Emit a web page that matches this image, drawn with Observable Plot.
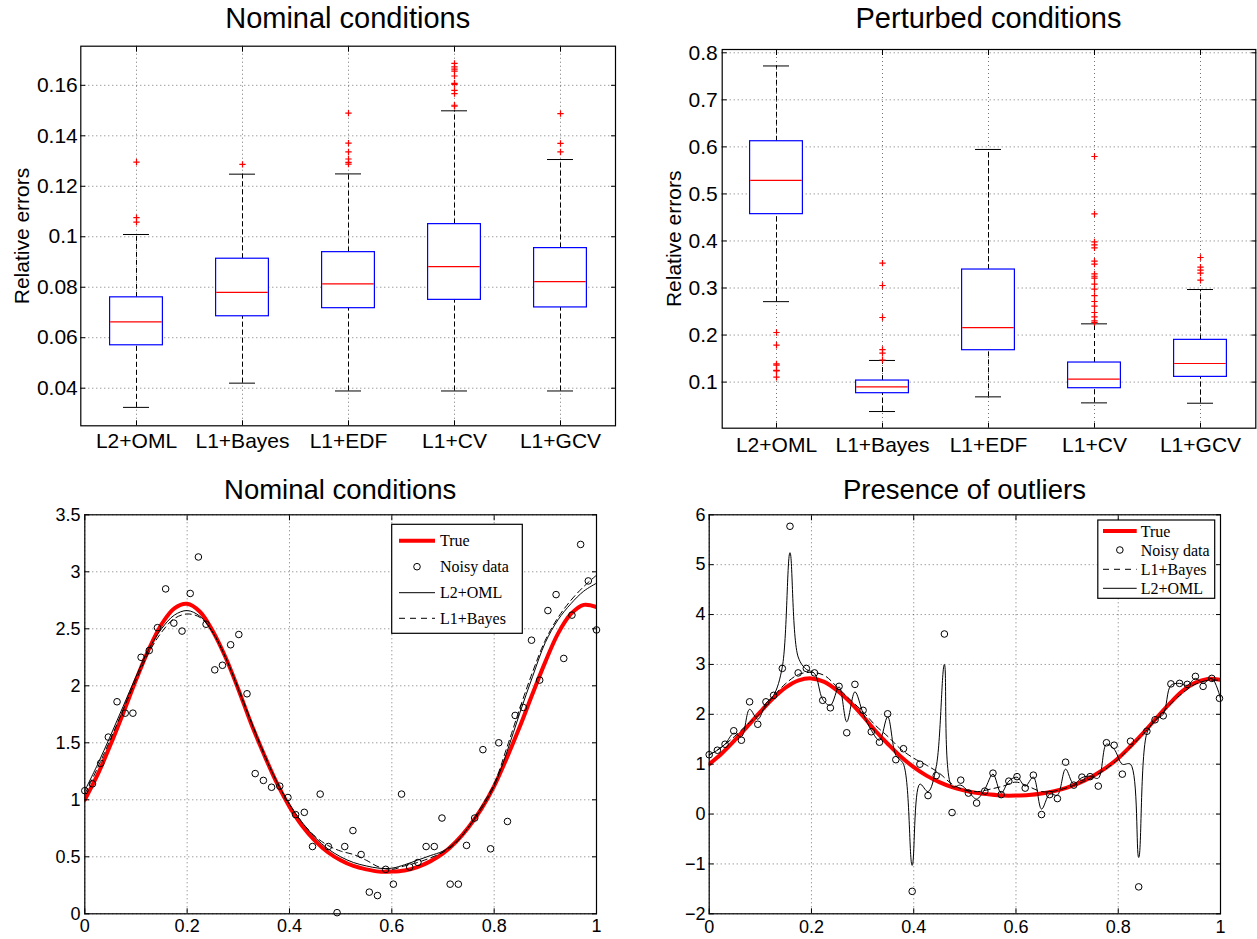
<!DOCTYPE html>
<html><head><meta charset="utf-8">
<script src="https://cdn.jsdelivr.net/npm/d3@7"></script>
<script src="https://cdn.jsdelivr.net/npm/@observablehq/plot@0.6"></script>
<style>
body{margin:0;background:#fff;}
#wrap{position:relative;width:1257px;height:939px;overflow:hidden;background:#fff;}
#wrap svg{position:absolute;}
</style></head><body><div id="wrap"></div>
<script>
// ---------- DATA ----------
const methods = ["L2+OML","L1+Bayes","L1+EDF","L1+CV","L1+GCV"];

// Nominal conditions (box plots)
const nomQ1  = [0.0570, 0.0685, 0.0717, 0.0750, 0.0720];
const nomMed = [0.0663, 0.0780, 0.0813, 0.0882, 0.0822];
const nomQ3  = [0.0760, 0.0913, 0.0939, 0.1050, 0.0955];
const nomLo  = [0.0324, 0.0420, 0.0389, 0.0389, 0.0389];
const nomHi  = [0.1009, 0.1248, 0.1249, 0.1499, 0.1306];
const nomOut = [
  [0.1296, 0.1076, 0.1058],
  [0.1287],
  [0.1490, 0.1371, 0.1336, 0.1308, 0.1295, 0.1288],
  [0.1687, 0.1673, 0.1664, 0.1656, 0.1637, 0.1608, 0.1604, 0.1580, 0.1567, 0.1521, 0.1517],
  [0.1488, 0.1370, 0.1336]
];
const nomTicks = [0.04, 0.06, 0.08, 0.10, 0.12, 0.14, 0.16];

// Perturbed conditions (box plots)
const perQ1  = [0.457, 0.0764, 0.1678, 0.0870, 0.1111];
const perMed = [0.529, 0.0898, 0.2160, 0.1062, 0.1395];
const perQ3  = [0.612, 0.1033, 0.3393, 0.1416, 0.1898];
const perLo  = [0.271, 0.0374, 0.0686, 0.0558, 0.0551];
const perHi  = [0.772, 0.1460, 0.5945, 0.2238, 0.2968];
const perOut = [
  [0.2054, 0.1784, 0.1388, 0.1360, 0.1250, 0.1240, 0.1104],
  [0.3528, 0.3053, 0.2373, 0.1692, 0.1614, 0.1470],
  [],
  [0.5796, 0.4577, 0.3982, 0.3918, 0.3854, 0.3570, 0.3507, 0.3300, 0.3250, 0.3209, 0.3082, 0.2975, 0.2840, 0.2713, 0.2614, 0.2479, 0.2387, 0.2302, 0.2267],
  [0.3649, 0.3443, 0.3379, 0.3316, 0.3166]
];
const perTicks = [0.1, 0.2, 0.3, 0.4, 0.5, 0.6, 0.7, 0.8];

// Curves (read at x grid)
const curveX = [0,0.025,0.05,0.075,0.1,0.125,0.15,0.175,0.2,0.225,0.25,0.275,0.3,0.325,0.35,0.375,0.4,0.425,0.45,0.475,0.5,0.525,0.55,0.575,0.6,0.625,0.65,0.675,0.7,0.725,0.75,0.775,0.8,0.825,0.85,0.875,0.9,0.925,0.95,0.975,1];
const trueY  = [1.00,1.22,1.48,1.76,2.05,2.32,2.54,2.68,2.72,2.65,2.48,2.25,1.97,1.67,1.40,1.15,0.94,0.77,0.64,0.54,0.47,0.42,0.39,0.37,0.37,0.38,0.41,0.46,0.53,0.63,0.76,0.92,1.12,1.37,1.64,1.93,2.21,2.46,2.63,2.71,2.69];
const nomL2Y = [1.08,1.31,1.56,1.82,2.08,2.32,2.50,2.62,2.66,2.61,2.47,2.25,1.97,1.68,1.40,1.16,0.96,0.80,0.67,0.57,0.50,0.45,0.42,0.40,0.40,0.43,0.47,0.51,0.55,0.63,0.76,0.92,1.12,1.42,1.76,2.08,2.38,2.58,2.72,2.83,2.90];
const nomBayesY = [1.05,1.28,1.53,1.79,2.05,2.29,2.47,2.59,2.63,2.60,2.47,2.25,1.98,1.69,1.41,1.16,0.96,0.80,0.68,0.60,0.55,0.52,0.47,0.41,0.39,0.42,0.45,0.49,0.54,0.62,0.76,0.94,1.14,1.46,1.80,2.12,2.40,2.60,2.75,2.87,2.97];
const outBayesY = [1.18,1.35,1.56,1.80,2.02,2.35,2.62,2.80,2.84,2.78,2.55,2.30,2.06,1.78,1.55,1.30,1.12,0.98,0.82,0.60,0.48,0.45,0.50,0.56,0.64,0.55,0.45,0.46,0.53,0.62,0.74,0.90,1.10,1.35,1.62,1.90,2.18,2.42,2.60,2.68,2.68];

// Noisy data, nominal
const nomNoisyX = [0.000,0.015,0.031,0.046,0.063,0.079,0.094,0.110,0.126,0.142,0.158,0.174,0.190,0.206,0.222,0.237,0.254,0.269,0.285,0.301,0.317,0.333,0.349,0.365,0.381,0.397,0.412,0.429,0.445,0.460,0.476,0.493,0.508,0.524,0.540,0.556,0.572,0.588,0.603,0.619,0.635,0.651,0.667,0.683,0.698,0.714,0.730,0.746,0.762,0.778,0.793,0.809,0.826,0.841,0.857,0.873,0.889,0.905,0.921,0.936,0.952,0.969,0.984,1.000];
const nomNoisyY = [1.08,1.14,1.32,1.55,1.86,1.76,1.76,2.25,2.31,2.51,2.85,2.55,2.48,2.81,3.13,2.54,2.14,2.18,2.36,2.45,1.93,1.23,1.17,1.11,1.12,1.02,0.87,0.89,0.59,1.05,0.59,0.01,0.59,0.73,0.52,0.19,0.16,0.39,0.26,1.05,0.41,0.45,0.59,0.59,0.84,0.26,0.26,0.60,0.84,1.44,0.57,1.50,0.81,1.74,1.81,2.40,2.05,2.66,2.80,2.24,2.62,3.24,2.92,2.49];

// Noisy data with outliers
const outNoisyX = [0.000,0.016,0.031,0.048,0.063,0.079,0.095,0.111,0.126,0.143,0.158,0.174,0.190,0.206,0.222,0.237,0.254,0.269,0.285,0.301,0.317,0.333,0.349,0.365,0.380,0.397,0.412,0.428,0.444,0.460,0.475,0.492,0.507,0.523,0.539,0.555,0.571,0.586,0.602,0.618,0.634,0.650,0.666,0.681,0.697,0.713,0.729,0.745,0.761,0.777,0.792,0.808,0.824,0.840,0.856,0.872,0.888,0.903,0.920,0.935,0.951,0.966,0.983,0.998];
const outNoisyY = [1.19,1.28,1.40,1.67,1.48,2.25,1.80,2.25,2.38,2.92,5.77,2.83,2.92,2.83,2.28,2.13,2.56,1.63,2.60,2.08,1.65,1.44,2.01,1.09,1.31,-1.55,1.00,0.37,0.77,3.61,0.03,0.68,0.42,0.22,0.46,0.82,0.39,0.66,0.75,0.52,0.78,-0.01,0.39,0.31,1.04,0.58,0.74,0.75,0.56,1.43,1.38,0.80,1.46,-1.46,1.66,1.89,1.97,2.61,2.62,2.60,2.76,2.56,2.72,2.32];

// L2+OML estimate with outliers
const outL2X = [0.000,0.016,0.031,0.048,0.063,0.079,0.095,0.111,0.126,0.143,0.158,0.174,0.190,0.206,0.222,0.237,0.254,0.269,0.285,0.301,0.317,0.333,0.349,0.365,0.380,0.397,0.412,0.428,0.444,0.460,0.475,0.492,0.507,0.523,0.539,0.555,0.571,0.586,0.602,0.618,0.634,0.650,0.666,0.681,0.697,0.713,0.729,0.745,0.761,0.777,0.792,0.808,0.824,0.840,0.856,0.872,0.888,0.903,0.920,0.935,0.951,0.966,0.983,1.000];
const outL2Y = [1.19,1.28,1.40,1.62,1.55,2.10,1.90,2.22,2.38,2.95,5.24,3.15,2.90,2.82,2.30,2.18,2.55,1.85,2.45,2.02,1.68,1.48,1.95,1.18,1.00,-1.03,0.60,0.45,0.95,3.00,0.55,0.58,0.45,0.30,0.50,0.80,0.42,0.66,0.74,0.56,0.74,0.10,0.40,0.38,0.90,0.60,0.73,0.76,0.72,1.40,1.30,1.00,1.00,-0.87,1.62,1.88,2.00,2.58,2.62,2.58,2.72,2.62,2.72,2.32];

const legendNominal = ["True","Noisy data","L2+OML","L1+Bayes"];
const legendOutliers = ["True","Noisy data","L1+Bayes","L2+OML"];
const titles = ["Nominal conditions","Perturbed conditions","Nominal conditions","Presence of outliers"];

// ---------- DRAW ----------
const SANS = "'Liberation Sans', Arial, Helvetica, sans-serif";
const SERIF = "'Liberation Serif', 'Times New Roman', serif";
const wrap = document.getElementById("wrap");
const fmt = d3.format("~g");
const gridStyle = {stroke:"#000", strokeOpacity:0.55, strokeDasharray:"1,3", strokeWidth:1};

function place(svg, left, top){ svg.style.left = left+"px"; svg.style.top = top+"px"; wrap.appendChild(svg); }

function boxPanel(o){
  const rows = methods.map((m,i)=>({m, q1:o.q1[i], med:o.med[i], q3:o.q3[i], lo:o.lo[i], hi:o.hi[i]}));
  const outs = methods.flatMap((m,i)=>o.out[i].map(v=>({m, v})));
  return Plot.plot({
    width:o.width, height:o.height,
    marginLeft:o.ml, marginRight:o.mr, marginTop:o.mt, marginBottom:o.mb,
    style:{fontFamily:SANS, fontSize:"21px", color:"black", background:"transparent", overflow:"visible"},
    x:{type:"band", domain:methods, padding:0, label:null},
    y:{domain:o.domain, label:null},
    marks:[
      Plot.gridY(o.ticks, gridStyle),
      Plot.gridX(methods, gridStyle),
      Plot.ruleX(rows, {x:"m", y1:"q3", y2:"hi", stroke:"black", strokeDasharray:"5,3"}),
      Plot.ruleX(rows, {x:"m", y1:"lo", y2:"q1", stroke:"black", strokeDasharray:"5,3"}),
      Plot.tickY(rows, {x:"m", y:"hi", stroke:"black", inset:40}),
      Plot.tickY(rows, {x:"m", y:"lo", stroke:"black", inset:40}),
      Plot.barY(rows, {x:"m", y1:"q1", y2:"q3", fill:"white", stroke:"#0000ff", strokeWidth:1.2, insetLeft:26.6, insetRight:26.6}),
      Plot.tickY(rows, {x:"m", y:"med", stroke:"#ff0000", strokeWidth:1.2, inset:27.2}),
      Plot.dot(outs, {x:"m", y:"v", symbol:"plus", stroke:"#ff0000", strokeWidth:1.2, r:2.2}),
      Plot.frame({stroke:"black", strokeWidth:1.2}),
      Plot.axisY(o.ticks, {tickSize:-5, tickPadding:o.padY, tickFormat:fmt, label:null}),
      Plot.axisY(o.ticks, {anchor:"right", tickSize:-5, tickFormat:()=>"", label:null}),
      Plot.axisX({tickSize:-5, tickPadding:o.padX, label:null}),
      Plot.axisX({anchor:"top", tickSize:-5, tickFormat:()=>"", label:null}),
      Plot.text(["Relative errors"], {frameAnchor:"left", rotate:-90, textAnchor:"middle", lineAnchor:"bottom", dx:o.labelDx, fontSize:21})
    ]
  });
}

function linePanel(o){
  const tr = curveX.map((x,i)=>({x, y:trueY[i]}));
  const noisy = o.nx.map((x,i)=>({x, y:o.ny[i]}));
  const xTicks = [0,0.2,0.4,0.6,0.8,1];
  return Plot.plot({
    width:o.width, height:o.height,
    marginLeft:o.ml, marginRight:o.mr, marginTop:o.mt, marginBottom:o.mb,
    style:{fontFamily:SANS, fontSize:"18px", color:"black", background:"transparent", overflow:"visible"},
    x:{domain:[0,1], label:null},
    y:{domain:o.domain, label:null},
    marks:[
      Plot.gridY(o.yTicks, gridStyle),
      Plot.gridX(xTicks, gridStyle),
      Plot.line(tr, {x:"x", y:"y", stroke:"#ff0000", strokeWidth:4, curve:"catmull-rom", clip:true}),
      Plot.dot(noisy, {x:"x", y:"y", r:3.3, stroke:"black", fill:"none", strokeWidth:1}),
      ...o.lines.map(l => Plot.line(l.x.map((x,i)=>({x, y:l.y[i]})), {x:"x", y:"y", stroke:"black", strokeWidth:1, strokeDasharray:l.dash, curve:"catmull-rom", clip:true})),
      Plot.frame({stroke:"black", strokeWidth:1.2}),
      Plot.axisY(o.yTicks, {tickSize:-5, tickPadding:o.padY, tickFormat:fmt, label:null}),
      Plot.axisY(o.yTicks, {anchor:"right", tickSize:-5, tickFormat:()=>"", label:null}),
      Plot.axisX(xTicks, {tickSize:-5, tickPadding:o.padX, tickFormat:fmt, label:null}),
      Plot.axisX(xTicks, {anchor:"top", tickSize:-5, tickFormat:()=>"", label:null})
    ]
  });
}

place(boxPanel({width:628, height:470, ml:80.3, mr:13, mt:45.7, mb:44.7, domain:[0.0251,0.1755], ticks:nomTicks,
  q1:nomQ1, med:nomMed, q3:nomQ3, lo:nomLo, hi:nomHi, out:nomOut, padY:8, padX:12.7, labelDx:-52}), 0, 0);
place(boxPanel({width:629, height:470, ml:93.7, mr:1.7, mt:49, mb:42.3, domain:[0.002,0.807], ticks:perTicks,
  q1:perQ1, med:perMed, q3:perQ3, lo:perLo, hi:perHi, out:perOut, padY:9.4, padX:14, labelDx:-41}), 628, 0);
place(linePanel({width:628, height:469, ml:84.3, mr:32, mt:44.3, mb:25.7, domain:[0,3.5], yTicks:[0,0.5,1,1.5,2,2.5,3,3.5],
  nx:nomNoisyX, ny:nomNoisyY, padY:9.3, padX:10,
  lines:[{x:curveX, y:nomL2Y, dash:null},{x:curveX, y:nomBayesY, dash:"6,4"}]}), 0, 470);
place(linePanel({width:629, height:469, ml:80.7, mr:37, mt:44.3, mb:25.7, domain:[-2,6], yTicks:[-2,-1,0,1,2,3,4,5,6],
  nx:outNoisyX, ny:outNoisyY, padY:8.7, padX:11.5,
  lines:[{x:curveX, y:outBayesY, dash:"6,4"},{x:outL2X, y:outL2Y, dash:null}]}), 628, 470);

// ---------- titles & legends overlay ----------
const NS = "http://www.w3.org/2000/svg";
const ov = document.createElementNS(NS, "svg");
ov.setAttribute("width", 1257); ov.setAttribute("height", 939);
ov.style.left = "0px"; ov.style.top = "0px";
function el(tag, attrs, parent){ const e = document.createElementNS(NS, tag); for (const k in attrs) e.setAttribute(k, attrs[k]); (parent||ov).appendChild(e); return e; }
function txt(x, y, s, size, family, anchor){ const t = el("text", {x, y, "font-size":size, "font-family":family, "text-anchor":anchor||"start", fill:"black"}); t.textContent = s; return t; }

txt(347.7, 27.5, titles[0], 29, SANS, "middle");
txt(988.5, 28, titles[1], 29, SANS, "middle");
txt(340.2, 499.3, titles[2], 27.5, SANS, "middle");
txt(964.4, 499.3, titles[3], 27.5, SANS, "middle");

function legend(box, labels, rowsY, sx1, sx2, tx){
  el("rect", {x:box[0], y:box[1], width:box[2], height:box[3], fill:"white", stroke:"black", "stroke-width":1.2});
  labels.forEach((lab, i) => {
    const y = rowsY[i];
    if (lab === "True") el("line", {x1:sx1, x2:sx2, y1:y, y2:y, stroke:"#ff0000", "stroke-width":4});
    else if (lab === "Noisy data") el("circle", {cx:(sx1+sx2)/2, cy:y, r:3.3, fill:"none", stroke:"black"});
    else if (lab === "L1+Bayes") el("line", {x1:sx1, x2:sx2, y1:y, y2:y, stroke:"black", "stroke-width":1, "stroke-dasharray":"6,5"});
    else el("line", {x1:sx1, x2:sx2, y1:y, y2:y, stroke:"black", "stroke-width":1});
    txt(tx, y + 5.5, lab, 16, SERIF, "start");
  });
}
legend([391.7, 524.3, 130.6, 109], legendNominal, [540.7, 566.7, 592.7, 618.3], 399, 435, 440);
legend([1097.8, 520, 116.9, 78.3], legendOutliers, [531, 550, 569.3, 588.3], 1103, 1136.7, 1140.7);
wrap.appendChild(ov);
</script>
</body></html>
